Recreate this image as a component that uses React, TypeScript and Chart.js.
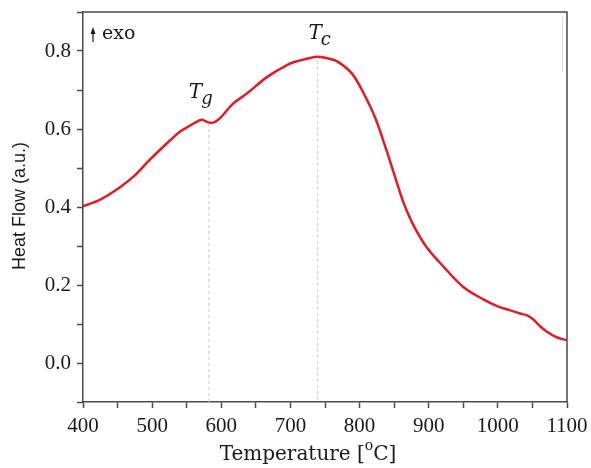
import React, { useEffect, useRef } from "react";
import { Chart, registerables } from "chart.js";

Chart.register(...registerables);

// Temperature (°C)
const temperature = [
  400, 425, 453, 475, 497, 526, 540, 555, 565, 572, 581, 589, 598, 617, 637,
  666, 695, 714, 728, 738, 752, 767, 789, 806, 823, 839, 856, 864, 878, 897,
  922, 950, 979, 1000, 1018, 1032, 1042, 1051, 1060, 1071, 1085, 1100,
];
// Heat flow (a.u.)
const heatFlow = [
  0.402, 0.419, 0.45, 0.481, 0.522, 0.571, 0.593, 0.609, 0.619, 0.624, 0.617,
  0.617, 0.627, 0.665, 0.691, 0.733, 0.764, 0.776, 0.782, 0.785, 0.782, 0.774,
  0.742, 0.691, 0.627, 0.545, 0.451, 0.409, 0.353, 0.297, 0.246, 0.195, 0.163,
  0.145, 0.135, 0.127, 0.122, 0.112, 0.096, 0.08, 0.066, 0.058,
];

const xTicksMajor = [400, 500, 600, 700, 800, 900, 1000, 1100];
const yTicksMajor = [0.0, 0.2, 0.4, 0.6, 0.8];

// Marked temperatures
const markers = [
  { label: "T", sub: "g", x: 582, y: 0.615 },
  { label: "T", sub: "c", x: 739, y: 0.775 },
];

const AXIS = "#4a4a4a";
const SERIF = "'Liberation Serif', serif";
const SERIF2 = "'DejaVu Serif', serif";

export default function App() {
  const ref = useRef<HTMLCanvasElement | null>(null);

  useEffect(() => {
    if (!ref.current) return;
    const decor = {
      id: "decor",
      beforeDatasetsDraw(chart: any) {
        const { ctx, scales } = chart;
        const xs = scales.x;
        const ys = scales.y;
        ctx.save();
        ctx.strokeStyle = "#c8c8c8";
        ctx.lineWidth = 1;
        ctx.setLineDash([3, 3]);
        markers.forEach((m) => {
          const px = xs.getPixelForValue(m.x);
          ctx.beginPath();
          ctx.moveTo(px, ys.getPixelForValue(m.y));
          ctx.lineTo(px, ys.getPixelForValue(-0.1));
          ctx.stroke();
        });
        ctx.restore();
      },
      afterDraw(chart: any) {
        const { ctx, chartArea, scales } = chart;
        const xs = scales.x;
        const { left, right, top, bottom } = chartArea;
        ctx.save();
        // frame
        ctx.strokeStyle = AXIS;
        ctx.lineWidth = 1.5;
        ctx.setLineDash([]);
        ctx.beginPath();
        ctx.moveTo(left, top);
        ctx.lineTo(right, top);
        ctx.lineTo(right, bottom);
        ctx.stroke();

        // faint artifact line in the top right
        ctx.strokeStyle = "#dddddd";
        ctx.lineWidth = 1;
        ctx.beginPath();
        ctx.moveTo(right - 4.5, top + 5);
        ctx.lineTo(right - 4.5, top + 60);
        ctx.stroke();

        ctx.fillStyle = "#1a1a1a";
        // marker labels
        markers.forEach((m, i) => {
          const px = xs.getPixelForValue(m.x);
          const base = i === 0 ? 98 : 39;
          const tx = i === 0 ? px - 20 : px - 9;
          ctx.font = `italic 20px ${SERIF2}`;
          ctx.textAlign = "left";
          ctx.textBaseline = "alphabetic";
          ctx.fillText(m.label, tx, base);
          const w = ctx.measureText(m.label).width;
          ctx.font = `italic 18px ${SERIF2}`;
          ctx.fillText(m.sub, tx + w - 1, base + 6);
        });

        // exo arrow
        const ax = left + 10;
        ctx.strokeStyle = "#111";
        ctx.lineWidth = 1.2;
        ctx.beginPath();
        ctx.moveTo(ax, top + 30);
        ctx.lineTo(ax, top + 18);
        ctx.stroke();
        ctx.beginPath();
        ctx.moveTo(ax, top + 15);
        ctx.lineTo(ax - 2.5, top + 22);
        ctx.lineTo(ax + 2.5, top + 22);
        ctx.closePath();
        ctx.fill();
        ctx.font = `19px ${SERIF2}`;
        ctx.textAlign = "left";
        ctx.fillText("exo", left + 19, top + 27);

        // x title
        ctx.font = `20px ${SERIF2}`;
        const t1 = "Temperature [";
        const t2 = "o";
        const t3 = "C]";
        const w1 = ctx.measureText(t1).width;
        const w3 = ctx.measureText(t3).width;
        ctx.font = `14px ${SERIF2}`;
        const w2 = ctx.measureText(t2).width;
        const total = w1 + w2 + w3;
        let sx = 308 - total / 2;
        const base = 460;
        ctx.font = `20px ${SERIF2}`;
        ctx.fillText(t1, sx, base);
        sx += w1;
        ctx.font = `14px ${SERIF2}`;
        ctx.fillText(t2, sx, base - 10);
        sx += w2;
        ctx.font = `20px ${SERIF2}`;
        ctx.fillText(t3, sx, base);

        // y title
        ctx.save();
        ctx.translate(25, 206);
        ctx.rotate(-Math.PI / 2);
        ctx.font = "18px 'Liberation Sans', Arial, sans-serif";
        ctx.textAlign = "center";
        ctx.textBaseline = "alphabetic";
        ctx.fillText("Heat Flow (a.u.)", 0, 0);
        ctx.restore();

        ctx.restore();
      },
    };

    const chart = new Chart(ref.current, {
      type: "line",
      data: {
        datasets: [
          {
            data: temperature.map((t, i) => ({ x: t, y: heatFlow[i] })),
            borderColor: "#e31b23",
            borderWidth: 2.5,
            pointRadius: 0,
            tension: 0.35,
            fill: false,
          },
        ],
      },
      options: {
        responsive: false,
        animation: false,
        layout: { padding: { top: 12, right: 24, left: 0, bottom: 0 } },
        plugins: {
          legend: { display: false },
          tooltip: { enabled: false },
        },
        scales: {
          x: {
            type: "linear",
            min: 400,
            max: 1100,
            afterFit: (s: any) => {
              s.height = 66;
              s.paddingLeft = 0;
              s.paddingRight = 0;
            },
            ticks: {
              stepSize: 50,
              autoSkip: false,
              maxRotation: 0,
              padding: 6,
              color: "#1a1a1a",
              font: { family: SERIF, size: 21 },
              callback: (v: any) =>
                xTicksMajor.includes(Math.round(Number(v))) ? String(Math.round(Number(v))) : "",
            },
            grid: {
              drawOnChartArea: false,
              drawTicks: true,
              tickLength: 6,
              tickColor: AXIS,
              tickWidth: 1.5,
            },
            border: { display: true, color: AXIS, width: 1.5 },
          },
          y: {
            type: "linear",
            min: -0.1,
            max: 0.9,
            afterFit: (s: any) => {
              s.width = 83;
              s.paddingTop = 0;
              s.paddingBottom = 0;
            },
            ticks: {
              stepSize: 0.1,
              autoSkip: false,
              padding: 6,
              color: "#1a1a1a",
              font: { family: SERIF, size: 21 },
              callback: (v: any) => {
                const r = Math.round(Number(v) * 10) / 10;
                return yTicksMajor.some((m) => Math.abs(m - r) < 1e-6) ? r.toFixed(1) : "";
              },
            },
            grid: {
              drawOnChartArea: false,
              drawTicks: true,
              tickLength: 6,
              tickColor: AXIS,
              tickWidth: 1.5,
            },
            border: { display: true, color: AXIS, width: 1.5 },
          },
        },
      },
      plugins: [decor],
    } as any);
    return () => chart.destroy();
  }, []);

  return (
    <div style={{ position: "absolute", left: 0, top: 0, width: 591, height: 468, background: "#fff" }}>
      <canvas ref={ref} width={591} height={468} />
    </div>
  );
}
